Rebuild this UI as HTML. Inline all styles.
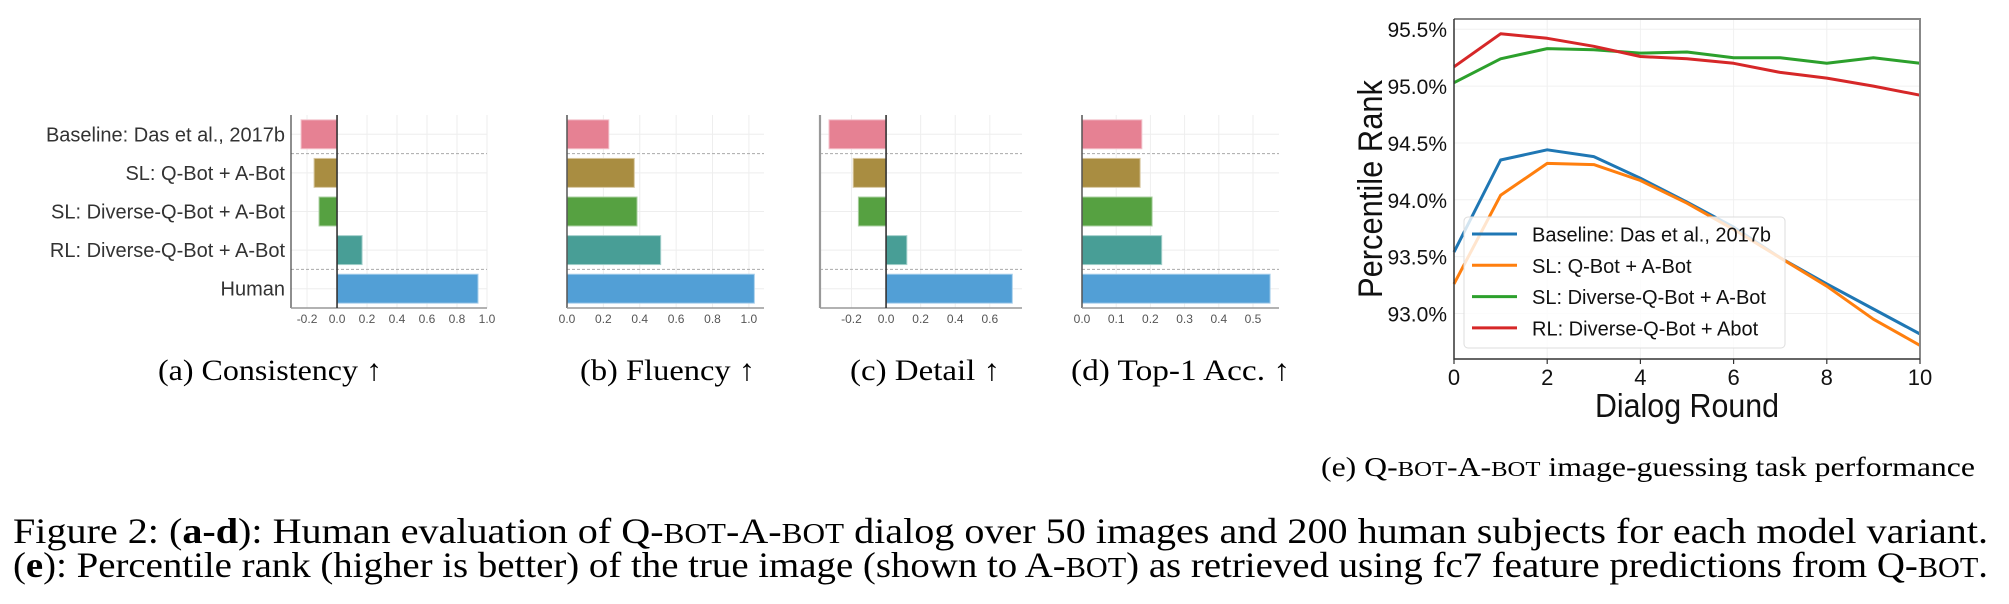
<!DOCTYPE html>
<html><head><meta charset="utf-8"><style>
html,body{margin:0;padding:0;background:#fff;}
svg{display:block;}
</style></head><body>
<svg id="fig" width="2009" height="604" viewBox="0 0 2009 604" xmlns="http://www.w3.org/2000/svg">
<g id="bars"></g>
<g id="line"></g>
<g id="caps" font-family="Liberation Serif, serif" fill="#000">
  <text x="158" y="380" font-size="30" textLength="224" lengthAdjust="spacingAndGlyphs">(a) Consistency ↑</text>
  <text x="580" y="380" font-size="30" textLength="175" lengthAdjust="spacingAndGlyphs">(b) Fluency ↑</text>
  <text x="850" y="380" font-size="30" textLength="150" lengthAdjust="spacingAndGlyphs">(c) Detail ↑</text>
  <text x="1071" y="380" font-size="30" textLength="219" lengthAdjust="spacingAndGlyphs">(d) Top-1 Acc. ↑</text>
  <text x="1321" y="476" font-size="27" textLength="654" lengthAdjust="spacingAndGlyphs">(e) Q-<tspan font-size="21">BOT</tspan>-A-<tspan font-size="21">BOT</tspan> image-guessing task performance</text>
  <text x="13" y="543" font-size="36" textLength="1975" lengthAdjust="spacingAndGlyphs">Figure 2: (<tspan font-weight="bold">a-d</tspan>): Human evaluation of Q-<tspan font-size="28">BOT</tspan>-A-<tspan font-size="28">BOT</tspan> dialog over 50 images and 200 human subjects for each model variant.</text>
  <text x="13" y="577" font-size="36" textLength="1975" lengthAdjust="spacingAndGlyphs">(<tspan font-weight="bold">e</tspan>): Percentile rank (higher is better) of the true image (shown to A-<tspan font-size="28">BOT</tspan>) as retrieved using fc7 feature predictions from Q-<tspan font-size="28">BOT</tspan>.</text>
</g>
</svg>
<script>
// ---- bar chart data ----
const models = ["Baseline: Das et al., 2017b","SL: Q-Bot + A-Bot","SL: Diverse-Q-Bot + A-Bot","RL: Diverse-Q-Bot + A-Bot","Human"];
const consistency = [-0.24, -0.153, -0.12, 0.167, 0.94];
const fluency = [0.23, 0.37, 0.385, 0.515, 1.03];
const detail = [-0.33, -0.19, -0.16, 0.12, 0.73];
const top1 = [0.175, 0.17, 0.205, 0.233, 0.55];
const ticksA = [-0.2, 0.0, 0.2, 0.4, 0.6, 0.8, 1.0];
const ticksB = [0.0, 0.2, 0.4, 0.6, 0.8, 1.0];
const ticksC = [-0.2, 0.0, 0.2, 0.4, 0.6];
const ticksD = [0.0, 0.1, 0.2, 0.3, 0.4, 0.5];
const barColors = ["#e68193","#a98d41","#56a141","#489e96","#529fd6"];
const barEdges = ["#f3c3cc","#d7c7a0","#aad0a0","#a3cfcb","#a9cfeb"];

// ---- line chart data ----
const rounds = [0,1,2,3,4,5,6,7,8,9,10];
const seriesNames = ["Baseline: Das et al., 2017b","SL: Q-Bot + A-Bot","SL: Diverse-Q-Bot + A-Bot","RL: Diverse-Q-Bot + Abot"];
const baselinePR = [93.54,94.35,94.44,94.38,94.19,93.98,93.76,93.49,93.26,93.04,92.82];
const slPR = [93.26,94.04,94.32,94.31,94.17,93.97,93.74,93.49,93.24,92.95,92.72];
const slDivPR = [95.03,95.24,95.33,95.32,95.29,95.30,95.25,95.25,95.20,95.25,95.20];
const rlDivPR = [95.17,95.46,95.42,95.35,95.26,95.24,95.20,95.12,95.07,95.00,94.92];
const yTicksLine = [93.0,93.5,94.0,94.5,95.0,95.5];
const xTicksLine = [0,2,4,6,8,10];
const lineColors = ["#1f77b4","#ff7f0e","#2ca02c","#d62728"];

const NS = "http://www.w3.org/2000/svg";
function mk(parent, tag, attrs){ const e=document.createElementNS(NS,tag); for(const k in attrs) e.setAttribute(k,attrs[k]); parent.appendChild(e); return e; }

const barsG = document.getElementById('bars');
const rowTop = 115, rowBot = 308;
const rowH = (rowBot-rowTop)/models.length;
function rowY(i){ return rowTop + (i+0.5)*rowH; }

const panels = [
  {name:"consistency", vals:consistency, ticks:ticksA, dmin:-0.307, dmax:1.0, px0:291, px1:487, zeroLine:true, spineW:1.2, spineC:"#444"},
  {name:"fluency", vals:fluency, ticks:ticksB, dmin:0, dmax:1.083, px0:567, px1:764, zeroLine:false, spineW:1.5, spineC:"#555"},
  {name:"detail", vals:detail, ticks:ticksC, dmin:-0.382, dmax:0.786, px0:820, px1:1022, zeroLine:true, spineW:2.2, spineC:"#999"},
  {name:"top1-acc", vals:top1, ticks:ticksD, dmin:0, dmax:0.576, px0:1082, px1:1279, zeroLine:false, spineW:1.5, spineC:"#555"}
];

panels.forEach((p, pi) => {
  const g = mk(barsG,'g',{});
  
  
  const sx = v => p.px0 + (v - p.dmin)/(p.dmax - p.dmin)*(p.px1 - p.px0);
  // grid
  p.ticks.forEach(t => {
    const l = mk(g,'line',{x1:sx(t),x2:sx(t),y1:rowTop,y2:rowBot,stroke:"#eeeeee","stroke-width":1});
    
    
  });
  models.forEach((m,i) => {
    const l = mk(g,'line',{x1:p.px0,x2:p.px1,y1:rowY(i),y2:rowY(i),stroke:"#eeeeee","stroke-width":1});
    
    
  });
  // bars
  p.vals.forEach((v,i) => {
    const x0 = sx(Math.min(0,v)), x1 = sx(Math.max(0,v));
    const r = mk(g,'rect',{x:x0,y:rowY(i)-rowH*0.375,width:x1-x0,height:rowH*0.75,fill:barColors[i],stroke:barEdges[i],"stroke-width":1});
    
    
  });
  // dashed separators
  [1,4].forEach(k => {
    const y = rowTop + k*rowH;
    const l = mk(g,'line',{x1:p.px0,x2:p.px1,y1:y,y2:y,stroke:"#aaa","stroke-width":1,"stroke-dasharray":"3,2"});
    
    
  });
  // spines
  const ls = mk(g,'line',{x1:p.px0,x2:p.px0,y1:rowTop,y2:rowBot,stroke:p.spineC,"stroke-width":p.spineW});
  
  
  const bs = mk(g,'line',{x1:p.px0,x2:p.px1,y1:rowBot,y2:rowBot,stroke:"#999","stroke-width":1.6});
  
  
  if(p.zeroLine){
    const z = mk(g,'line',{x1:sx(0),x2:sx(0),y1:rowTop,y2:rowBot,stroke:"#333","stroke-width":1.6});
    
    
  }
  // tick labels
  p.ticks.forEach(t => {
    const tx = mk(g,'text',{x:sx(t),y:323,"font-family":"Liberation Sans, sans-serif","font-size":12,fill:"#555","text-anchor":"middle"});
    tx.textContent = t.toFixed(1);
    
    
  });
  if(pi===0){
    models.forEach((m,i) => {
      const tx = mk(g,'text',{x:285,y:rowY(i)+7,"font-family":"Liberation Sans, sans-serif","font-size":20,fill:"#333","text-anchor":"end"});
      tx.textContent = m;
      
      
    });
  }
});

// ---- line chart ----
const lg = document.getElementById('line');
const L = {x0:1454, x1:1920, y0:19, y1:359, xmin:0, xmax:10, ymin:92.6, ymax:95.59};
const lx = v => L.x0 + (v-L.xmin)/(L.xmax-L.xmin)*(L.x1-L.x0);
const ly = v => L.y1 - (v-L.ymin)/(L.ymax-L.ymin)*(L.y1-L.y0);
xTicksLine.forEach(t => {
  const l = mk(lg,'line',{x1:lx(t),x2:lx(t),y1:L.y0,y2:L.y1,stroke:"#f0f0f0","stroke-width":1});
  
  
  const tx = mk(lg,'text',{x:lx(t),y:385,"font-family":"Liberation Sans, sans-serif","font-size":22,fill:"#111","text-anchor":"middle"});
  tx.textContent = t;
  
  
  const tk = mk(lg,'line',{x1:lx(t),x2:lx(t),y1:L.y1,y2:L.y1+5,stroke:"#333","stroke-width":1.2});
  
  
});
yTicksLine.forEach(t => {
  const l = mk(lg,'line',{x1:L.x0,x2:L.x1,y1:ly(t),y2:ly(t),stroke:"#f0f0f0","stroke-width":1});
  
  
  const tx = mk(lg,'text',{x:1447,y:ly(t)+8,"font-family":"Liberation Sans, sans-serif","font-size":21,fill:"#111","text-anchor":"end"});
  tx.textContent = t.toFixed(1) + "%";
  
  
});
const allSeries = [baselinePR, slPR, slDivPR, rlDivPR];
allSeries.forEach((s,si) => {
  const d = s.map((v,i) => (i?'L':'M') + lx(rounds[i]).toFixed(1) + ',' + ly(v).toFixed(1)).join(' ');
  const p = mk(lg,'path',{d:d,fill:"none",stroke:lineColors[si],"stroke-width":3,"stroke-linejoin":"round"});
  
  
});
// spines
const sp1 = mk(lg,'path',{d:`M${L.x0},${L.y0} H${L.x1} V${L.y1}`,fill:"none",stroke:"#888","stroke-width":2});


const sp2 = mk(lg,'path',{d:`M${L.x0},${L.y0} V${L.y1} H${L.x1}`,fill:"none",stroke:"#333","stroke-width":1.5});


// legend
const leg = mk(lg,'g',{});


const lb = mk(leg,'rect',{x:1464,y:217,width:321,height:131,rx:4,fill:"#fff","fill-opacity":0.8,stroke:"#ddd","stroke-width":1});


seriesNames.forEach((n,i) => {
  const y = 234 + i*31.3;
  const l = mk(leg,'line',{x1:1472,x2:1517,y1:y,y2:y,stroke:lineColors[i],"stroke-width":3});
  
  
  const t = mk(leg,'text',{x:1532,y:y+7.5,"font-family":"Liberation Sans, sans-serif","font-size":20,fill:"#111"});
  t.textContent = n;
  
  
});
// axis titles
const yt = mk(lg,'text',{x:0,y:0,transform:"translate(1382,189) rotate(-90)","font-family":"Liberation Sans, sans-serif","font-size":34,fill:"#111","text-anchor":"middle",textLength:218,lengthAdjust:"spacingAndGlyphs"});
yt.textContent = "Percentile Rank";


const xt = mk(lg,'text',{x:1687,y:417,"font-family":"Liberation Sans, sans-serif","font-size":33,fill:"#111","text-anchor":"middle",textLength:184,lengthAdjust:"spacingAndGlyphs"});
xt.textContent = "Dialog Round";


</script>
</body></html>
